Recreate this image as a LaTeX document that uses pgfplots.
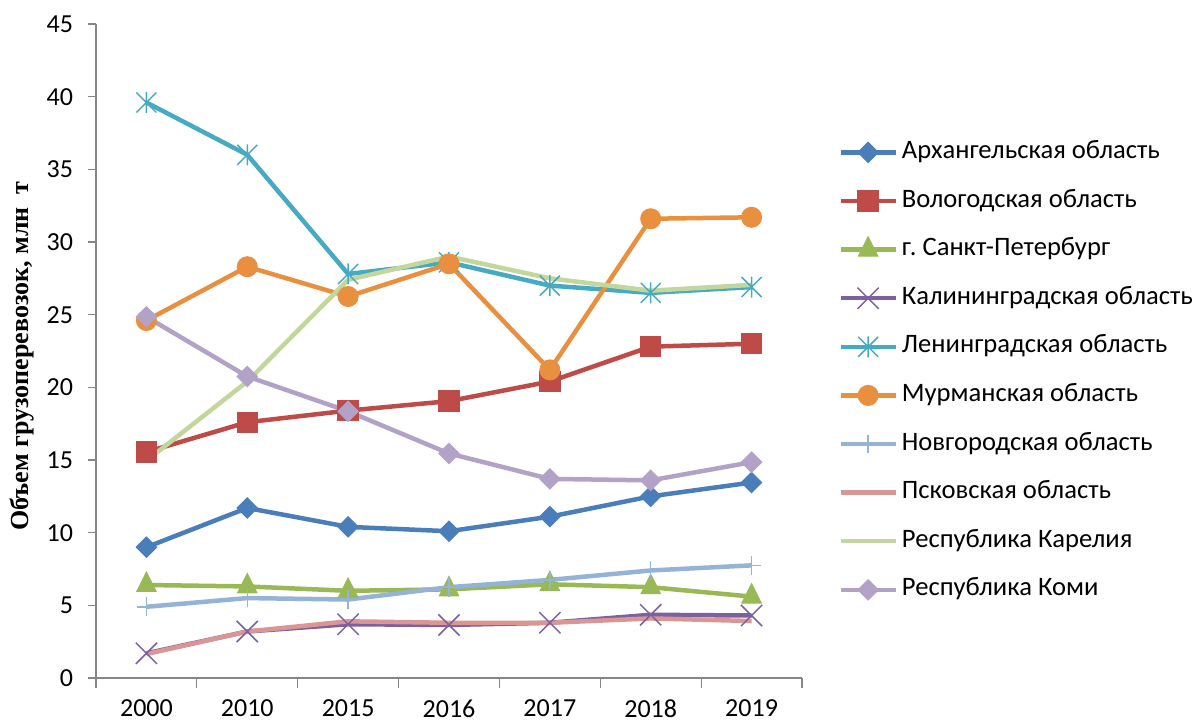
\documentclass[border=0pt]{standalone}
\usepackage{fontspec}
\setmainfont{Carlito}
\newfontfamily\serifb{Liberation Serif}
\usepackage{pgfplots}
\pgfplotsset{compat=1.18}
\frenchspacing
\definecolor{axisgray}{HTML}{868686}
\definecolor{cA}{HTML}{4A7EBB}
\definecolor{cB}{HTML}{BE4B48}
\definecolor{cC}{HTML}{98B954}
\definecolor{cD}{HTML}{7D60A0}
\definecolor{cE}{HTML}{46AAC5}
\definecolor{cF}{HTML}{E8903F}
\definecolor{cG}{HTML}{95B3D7}
\definecolor{cH}{HTML}{D99694}
\definecolor{cI}{HTML}{C3D69B}
\definecolor{cJ}{HTML}{B3A2C7}
\pgfdeclareplotmark{xstar}{%
  \pgfpathmoveto{\pgfqpoint{-\pgfplotmarksize}{-\pgfplotmarksize}}%
  \pgfpathlineto{\pgfqpoint{\pgfplotmarksize}{\pgfplotmarksize}}%
  \pgfpathmoveto{\pgfqpoint{-\pgfplotmarksize}{\pgfplotmarksize}}%
  \pgfpathlineto{\pgfqpoint{\pgfplotmarksize}{-\pgfplotmarksize}}%
  \pgfpathmoveto{\pgfqpoint{0pt}{-1.05\pgfplotmarksize}}%
  \pgfpathlineto{\pgfqpoint{0pt}{1.05\pgfplotmarksize}}%
  \pgfusepathqstroke}
\begin{document}
\frenchspacing
\begin{tikzpicture}
\useasboundingbox (-48pt,-23pt) rectangle (553pt,339pt);
\begin{axis}[
  scale only axis, width=353pt, height=327pt,
  at={(0,0)}, anchor=south west,
  xmin=-0.5, xmax=6.5, ymin=0, ymax=45,
  xtick={0,...,6},
  xticklabels={2000,2010,2015,2016,2017,2018,2019},
  minor xtick={-0.5,0.5,...,6.5},
  ytick={0,5,...,45},
  axis x line=bottom, axis y line=left,
  axis line style={-, draw=axisgray, line width=0.6pt},
  tick align=outside,
  major tick length=4pt, minor tick length=5pt,
  major x tick style={draw=none},
  tick style={draw=axisgray, line width=0.6pt},
  /pgf/number format/assume math mode=true,
  tick label style={font=\fontsize{13}{15}\selectfont, text=black},
  xticklabel style={yshift=-3.5pt},
  yticklabel style={xshift=-4pt},
  ylabel={Объем грузоперевозок, млн~~т},
  ylabel style={at={(rel axis cs:0,0.492)}, anchor=center, yshift=37pt,
    font=\serifb\bfseries\fontsize{13}{15}\selectfont},
  clip=false,
  every axis plot/.append style={line width=2.25pt},
  legend cell align=left,
  legend style={draw=none, fill=none, inner sep=0pt,
    at={(rel axis cs:1,1)}, anchor=north west, xshift=18pt, yshift=-56pt,
    font=\fontsize{13.3}{15}\selectfont,
    nodes={text height=9pt, text depth=3pt, inner sep=2pt},
    row sep=8.3pt, column sep=0pt},
  legend image code/.code={\draw[mark repeat=2,mark phase=2,#1] plot coordinates {(0pt,0pt)(13.75pt,0pt)(27.5pt,0pt)};},
]
\addplot[color=cA, mark=square*, mark size=3.6pt, mark options={rotate=45, line width=0.5pt, fill=cA}] coordinates {
(0,9.0) (1,11.7) (2,10.4) (3,10.1) (4,11.1) (5,12.5) (6,13.45)};
\addlegendentry{Архангельская область}
\addplot[color=cB, mark=square*, mark size=5.1pt, mark options={line width=0.5pt, fill=cB}] coordinates {
(0,15.55) (1,17.6) (2,18.4) (3,19.05) (4,20.4) (5,22.8) (6,23.0)};
\addlegendentry{Вологодская область}
\addplot[color=cC, mark=triangle*, mark size=5.6pt, mark options={line width=0.5pt, fill=cC, yscale=1.15}] coordinates {
(0,6.4) (1,6.3) (2,6.0) (3,6.1) (4,6.45) (5,6.25) (6,5.6)};
\addlegendentry{г. Санкт-Петербург}
\addplot[color=cD, mark=x, mark size=7.5pt, mark options={line width=0.75pt}] coordinates {
(0,1.7) (1,3.2) (2,3.7) (3,3.65) (4,3.8) (5,4.35) (6,4.3)};
\addlegendentry{Калининградская область}
\addplot[color=cE, mark=xstar, mark size=5pt, mark options={line width=0.75pt}] coordinates {
(0,39.6) (1,36.0) (2,27.8) (3,28.6) (4,27.0) (5,26.5) (6,26.9)};
\addlegendentry{Ленинградская область}
\addplot[color=cF, mark=*, mark size=5pt, mark options={line width=0.5pt, fill=cF}] coordinates {
(0,24.6) (1,28.3) (2,26.25) (3,28.5) (4,21.2) (5,31.6) (6,31.7)};
\addlegendentry{Мурманская область}
\addplot[color=cG, mark=+, mark size=4.7pt, mark options={line width=0.75pt}] coordinates {
(0,4.9) (1,5.5) (2,5.4) (3,6.25) (4,6.75) (5,7.4) (6,7.75)};
\addlegendentry{Новгородская область}
\addplot[color=cH, mark=none] coordinates {
(0,1.65) (1,3.2) (2,3.9) (3,3.8) (4,3.8) (5,4.1) (6,3.92)};
\addlegendentry{Псковская область}
\addplot[color=cI, mark=none] coordinates {
(0,14.95) (1,20.4) (2,27.4) (3,29.0) (4,27.5) (5,26.65) (6,27.05)};
\addlegendentry{Республика Карелия}
\addplot[color=cJ, mark=square*, mark size=3.6pt, mark options={rotate=45, line width=0.5pt, fill=cJ}] coordinates {
(0,24.85) (1,20.75) (2,18.35) (3,15.45) (4,13.7) (5,13.6) (6,14.85)};
\addlegendentry{Республика Коми}
\end{axis}
\end{tikzpicture}
\end{document}
